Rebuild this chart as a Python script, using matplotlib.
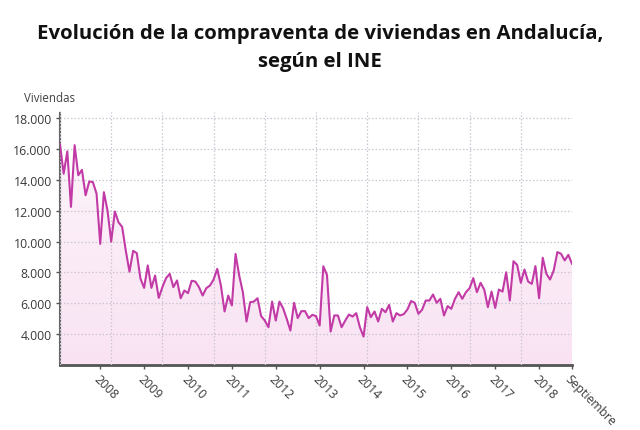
import numpy as np
import matplotlib
matplotlib.use("Agg")
import matplotlib.pyplot as plt
from matplotlib.patches import Polygon
from matplotlib.colors import LinearSegmentedColormap

# Monthly sales, Jan 2007 .. Sep 2018
values = [
    16300, 14400, 15850, 12250, 16250, 14300, 14650, 13000, 13900, 13850, 13100, 9850,
    13200, 12000, 10000, 11950, 11250, 10950, 9400, 8050, 9400, 9250, 7600, 7000,
    8450, 7000, 7800, 6350, 7050, 7630, 7910, 7050, 7480, 6330, 6830, 6660,
    7460, 7410, 7050, 6500, 6980, 7150, 7540, 8230, 7150, 5470, 6500, 5860,
    9200, 7800, 6720, 4820, 6070, 6110, 6330, 5170, 4880, 4450, 6110, 4880,
    6110, 5680, 4990, 4230, 6030, 5040, 5490, 5490, 5040, 5250, 5170, 4560,
    8400, 7840, 4170, 5210, 5210, 4450, 4880, 5270, 5140, 5360, 4450, 3840,
    5750, 5100, 5470, 4820, 5640, 5420, 5900, 4820, 5360, 5210, 5300, 5600,
    6150, 6030, 5320, 5580, 6180, 6180, 6570, 6030, 6290, 5210, 5820, 5640,
    6290, 6720, 6290, 6720, 6980, 7630, 6720, 7330, 6890, 5750, 6760, 5700,
    6890, 6760, 8010, 6180, 8730, 8490, 7330, 8190, 7410, 7260, 8410, 6330,
    8950, 7910, 7540, 8130, 9320, 9210, 8780, 9140, 8560,
]
year_labels = ["2008", "2009", "2010", "2011", "2012", "2013", "2014",
               "2015", "2016", "2017", "2018"]
last_label = "Septiembre"
y_ticks = [4000, 6000, 8000, 10000, 12000, 14000, 16000, 18000]
title = "Evolución de la compraventa de viviendas en Andalucía,\nsegún el INE"
y_label = "Viviendas"

plt.rcParams['font.family'] = ['Open Sans', 'DejaVu Sans']

x = np.arange(len(values))
y = np.array(values)
n = len(values) - 1

fig = plt.figure(figsize=(6.4, 4.31), dpi=100)
ax = fig.add_axes([60/640, 1-366/431, 512/640, 253/431])
ax.set_xlim(0, n)
ax.set_ylim(2000, 18400)

# gradient fill under the line
grad = np.linspace(0, 1, 256).reshape(-1, 1)
cmap = LinearSegmentedColormap.from_list("pk", ["#f9e3f3", "#fdf6fb"])
im = ax.imshow(grad, cmap=cmap, aspect='auto', origin='lower',
               extent=[0, n, 2000, 18400], zorder=1)
verts = [(0, 2000)] + list(zip(x, y)) + [(n, 2000)]
poly = Polygon(verts, closed=True, facecolor='none', edgecolor='none')
ax.add_patch(poly)
im.set_clip_path(poly)

ax.plot(x, y, color="#c23aa6", lw=1.5, zorder=3)

# grid
ax.set_yticks(y_ticks)
ax.set_yticklabels([f"{v:,}".replace(",", ".") for v in y_ticks])
ax.yaxis.grid(True, color="#cdc5d2", linestyle=(0, (1.2, 1.6)), lw=0.9, zorder=2)
ax.set_xticks(np.arange(0, n + 1, n // 10), minor=True)
ax.xaxis.grid(True, which='minor', color="#cdc5d2", linestyle=(0, (1.2, 1.6)), lw=0.9)
ax.xaxis.grid(False, which='major')
ax.set_axisbelow(False)

pos = list(np.arange(11, n, 12)) + [n]
ax.set_xticks(pos)
ax.set_xticklabels(year_labels + [last_label], rotation=-45, ha='left',
                   va='top', rotation_mode='anchor')
ax.tick_params(axis='x', which='major', length=3, width=1, color="#555555",
               labelsize=8.8, labelcolor="#3a3a3a", pad=2)
ax.tick_params(axis='x', which='minor', length=0)
ax.tick_params(axis='y', length=3, width=1, color="#555555",
               labelsize=8.8, labelcolor="#3a3a3a", pad=3)

for s in ['top', 'right']:
    ax.spines[s].set_visible(False)
ax.spines['bottom'].set_color("#555555")
ax.spines['bottom'].set_linewidth(2)
ax.spines['left'].set_color("#666666")
ax.spines['left'].set_linewidth(1.5)
ax.spines['left'].set_linestyle((0, (1, 0.6)))

fig.text(24/640, 1-98/431, y_label, fontsize=8.3, color="#444444",
         ha='left', va='center')
fig.text(0.5, 1-48/431, title, fontsize=14.7, fontweight='bold', ha='center',
         va='center', color="#111111", linespacing=1.5)

fig.savefig("out.png", dpi=100)
